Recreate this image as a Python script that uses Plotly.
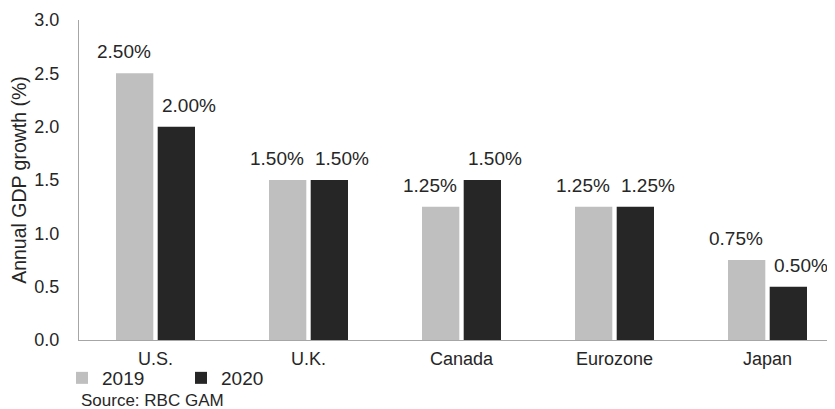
import plotly.graph_objects as go

categories = ["U.S.", "U.K.", "Canada", "Eurozone", "Japan"]
growth_2019 = [2.50, 1.50, 1.25, 1.25, 0.75]
growth_2020 = [2.00, 1.50, 1.50, 1.25, 0.50]
y_ticks = [0.0, 0.5, 1.0, 1.5, 2.0, 2.5, 3.0]

FONT = "Liberation Sans, Arial, sans-serif"
TXT = "#262626"
AXIS = "#A6A6A6"

# the page body adds an 8px offset, so the figure is 8px smaller than the window
W, H = 827, 401

fig = go.Figure()
fig.add_trace(go.Bar(name="2019", x=categories, y=growth_2019,
                     marker=dict(color="#BFBFBF", line=dict(width=0)), hoverinfo="skip"))
fig.add_trace(go.Bar(name="2020", x=categories, y=growth_2020,
                     marker=dict(color="#262626", line=dict(width=0)), hoverinfo="skip"))

# value labels
for vals, xs in ((growth_2019, -32), (growth_2020, 33)):
    for c, v in zip(categories, vals):
        fig.add_annotation(x=c, y=v, xref="x", yref="y", text=f"{v:.2f}%",
                           showarrow=False, xanchor="center", yanchor="bottom",
                           xshift=xs, yshift=9,
                           font=dict(family=FONT, size=19, color=TXT))

fig.add_annotation(x=0, y=-0.1875, xref="paper", yref="paper", text="Source: RBC GAM",
                   showarrow=False, xanchor="left", yanchor="middle",
                   font=dict(family=FONT, size=17, color=TXT))

fig.update_layout(
    width=W, height=H,
    margin=dict(l=71, r=0, t=12, b=69, autoexpand=False),
    paper_bgcolor="white", plot_bgcolor="white",
    barmode="group", bargap=0.455, bargroupgap=0.105,
    font=dict(family=FONT, size=18, color=TXT),
    showlegend=True,
    legend=dict(orientation="h", xref="container", yref="container",
                x=54 / W, y=1 - 370 / H, xanchor="left", yanchor="middle",
                font=dict(family=FONT, size=19, color=TXT),
                entrywidth=74, entrywidthmode="pixels",
                bgcolor="rgba(0,0,0,0)", itemclick=False, itemdoubleclick=False),
)
fig.update_xaxes(type="category", range=[-0.5, -0.5 + 756 / 153], automargin=False,
                 showline=True, linecolor=AXIS, linewidth=1.3,
                 ticks="", showgrid=False, zeroline=False,
                 tickfont=dict(family=FONT, size=18, color=TXT), ticklabelstandoff=2)
fig.update_yaxes(range=[0, 3], tickvals=y_ticks, tickformat=".1f", automargin=False,
                 showline=True, linecolor=AXIS, linewidth=1.3,
                 ticks="", showgrid=False, zeroline=False,
                 tickfont=dict(family=FONT, size=18, color=TXT), ticklabelstandoff=15,
                 title=dict(text="Annual GDP growth (%)", standoff=4,
                            font=dict(family=FONT, size=19.5, color=TXT)))

fig.write_html("out.html")
